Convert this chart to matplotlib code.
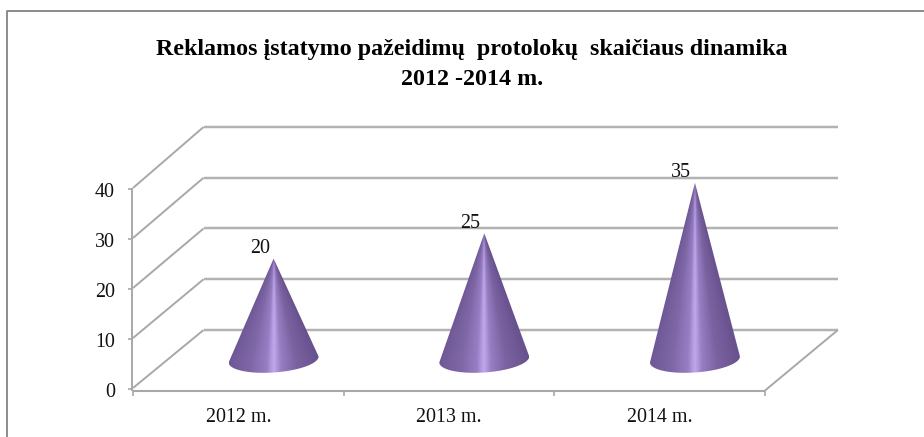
import numpy as np
import matplotlib
matplotlib.use('Agg')
import matplotlib.pyplot as plt
from matplotlib.path import Path
from matplotlib.patches import PathPatch
from matplotlib.lines import Line2D
from matplotlib.colors import LinearSegmentedColormap

W, H = 924, 437

# duomenys
title = 'Reklamos įstatymo pažeidimų  protolokų  skaičiaus dinamika\n2012 -2014 m.'
categories = ['2012 m.', '2013 m.', '2014 m.']
values = [20, 25, 35]
y_ticks = [0, 10, 20, 30, 40]

plt.rcParams['font.family'] = ['Liberation Serif', 'DejaVu Serif']

fig = plt.figure(figsize=(W / 100, H / 100), dpi=100)

# ploto sritis: x 0..3 -> 133..765 px, y 0..40 -> 388..188 px
ax = fig.add_axes([133 / W, 1 - 388 / H, (765 - 133) / W, 200 / H])
ax.axis('off')

# remelis
fig.add_artist(Line2D([7.5 / W, 7.5 / W, 1], [0, 1 - 11 / H, 1 - 11 / H],
                      color='#8c8c8c', lw=1.4))

# 3D gylis duomenu vienetais
depth_l = 0.335
depth_r = 0.346
depth_y = 11.6
back_scale = 1.015
grid_c = '#a8a8a8'
n = len(categories)


def line(xs, ys, lw=1.4, c=grid_c):
    ax.plot(xs, ys, color=c, lw=lw, clip_on=False, solid_capstyle='butt', zorder=1)


for v in y_ticks:
    yb = depth_y + v * back_scale
    # sesuolis ir pagrindine linija ant galines sienos
    line([depth_l, n + depth_r], [yb, yb], lw=2.6, c='#e8e8e8')
    line([depth_l, n + depth_r], [yb, yb], lw=1.2)
    line([0, depth_l], [v, yb])
    # y padalos
    line([-0.024, 0], [v - 0.2, v - 0.2], lw=1.2)
    ax.text(-0.085, v - 0.95, str(v), ha='right', va='center', fontsize=14.4, color='#111111')

# asys
line([-0.003, -0.003], [-0.5, 40], lw=1.4)
line([0, n], [-0.5, -0.5], lw=1.5)
line([n, n + depth_r], [-0.5, depth_y])
for i in range(n + 1):
    line([i, i], [-0.5, -1.5], lw=1.2)
for i, cat in enumerate(categories):
    ax.text(i + 0.5, -6.0, cat, ha='center', va='center', fontsize=14.4, color='#111111')

# kugiai
cmap = LinearSegmentedColormap.from_list(
    'cone', [(0, '#6e5894'), (0.25, '#8068a8'), (0.42, '#977ec4'),
             (0.5, '#c2a9ec'), (0.58, '#977ec4'), (0.75, '#7a62a0'), (1, '#68528e')])
half_w = 0.2136
half_h = 2.6  # elipses aukstis
tilt = 0.6    # pagrindo polinkis

for i, v in enumerate(values):
    cx = i + 0.5 + depth_l / 2
    by = depth_y / 2 - 0.1
    ay = by + v * 1.01
    t = np.linspace(np.pi, 2 * np.pi, 40)
    arc_x = cx + half_w * np.cos(t)
    arc_y = by + half_h * np.sin(t) + tilt * np.cos(t)
    vx = np.r_[cx, arc_x, cx]
    vy = np.r_[ay, arc_y, ay]
    clip = PathPatch(Path(np.c_[vx, vy]), transform=ax.transData, fc='none', ec='none')
    ax.add_patch(clip)

    # atspalvis pagal santykine padeti kugio plotyje
    gx = np.linspace(cx - half_w, cx + half_w, 120)
    gy = np.linspace(by - half_h - 1, ay, 200)
    X, Y = np.meshgrid(gx, gy)
    frac = np.clip((ay - Y) / (ay - by), 0.03, 1)
    u = np.clip((X - cx) / (half_w * frac) / 2 + 0.5, 0, 1)
    im = ax.imshow(u, extent=[gx[0], gx[-1], gy[0], gy[-1]], origin='lower', cmap=cmap,
                   vmin=0, vmax=1, aspect='auto', zorder=3, interpolation='bilinear')
    im.set_clip_box(fig.bbox)
    im.set_clip_path(clip)

    # reiksme virs virsunes, truputi i kaire
    ax.text(cx - 0.066, ay + 2.0, str(v), ha='center', va='center',
            fontsize=14.4, color='#111111', zorder=4)

ax.set_xlim(0, n)
ax.set_ylim(0, 40)

fig.text(472 / W, 1 - 64.5 / H, title, ha='center', va='center', fontsize=17.3,
         fontweight='bold', linespacing=1.56, color='black')

fig.savefig('out.png', dpi=100)
